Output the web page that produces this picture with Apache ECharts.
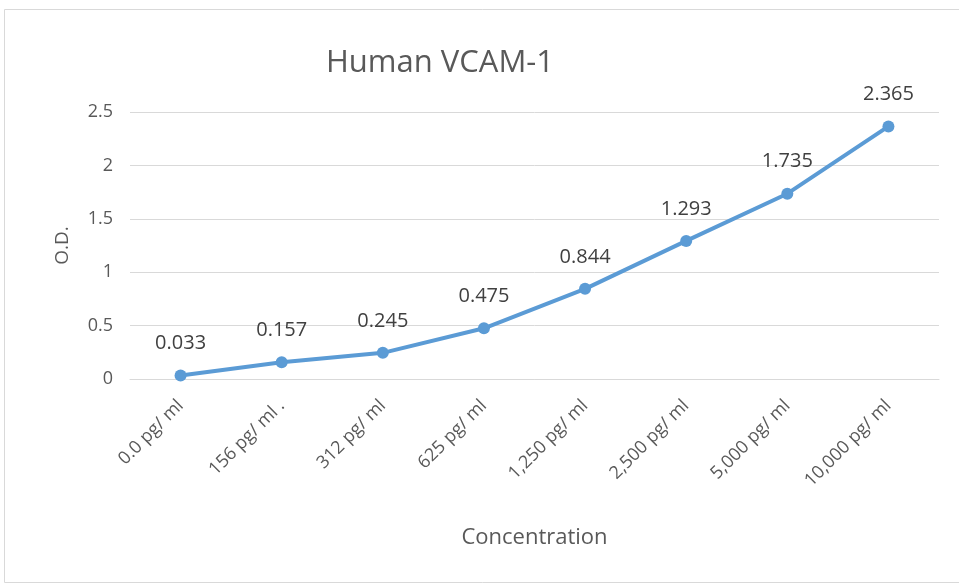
<!DOCTYPE html>
<html>
<head>
<meta charset="utf-8">
<script src="https://cdn.jsdelivr.net/npm/echarts@6/dist/echarts.min.js"></script>
<style>
  html, body { margin: 0; padding: 0; background: #fff; }
  #main { width: 959px; height: 585px; }
</style>
</head>
<body>
<div id="main"></div>
<script>
// 浓度分类和 O.D. 读数
let concentrations = ['0.0 pg/ ml', '156 pg/ ml .', '312 pg/ ml', '625 pg/ ml',
    '1,250 pg/ ml', '2,500 pg/ ml', '5,000 pg/ ml', '10,000 pg/ ml'];
let odValues = [0.033, 0.157, 0.245, 0.475, 0.844, 1.293, 1.735, 2.365];
let yTicks = [0, 0.5, 1, 1.5, 2, 2.5];

let myChart = echarts.init(document.getElementById('main'));
let font = '"Open Sans", "Noto Sans", sans-serif';

let option = {
    animation: false,
    textStyle: { fontFamily: font },
    graphic: [{
        type: 'rect',
        shape: { x: 4.5, y: 9.5, width: 970, height: 573 },
        style: { fill: 'none', stroke: '#d9d9d9', lineWidth: 1 }
    }],
    title: {
        text: 'Human VCAM-1',
        left: 435,
        top: 43,
        textAlign: 'center',
        textStyle: { fontSize: 31, fontWeight: 'normal', color: '#595959', fontFamily: font }
    },
    grid: { left: 130, right: 20, top: 112, bottom: 206 },
    xAxis: {
        type: 'category',
        data: concentrations,
        name: 'Concentration',
        nameLocation: 'middle',
        nameGap: 148,
        nameTextStyle: { fontSize: 22, color: '#595959' },
        axisLine: { lineStyle: { color: '#d9d9d9' } },
        axisTick: { show: false },
        axisLabel: { rotate: 45, fontSize: 18, color: '#595959', margin: 24 }
    },
    yAxis: {
        type: 'value',
        min: yTicks[0],
        max: yTicks[yTicks.length - 1],
        interval: 0.5,
        name: 'O.D.',
        nameLocation: 'middle',
        nameGap: 58,
        nameTextStyle: { fontSize: 19, color: '#595959' },
        axisLine: { show: false },
        axisTick: { show: false },
        axisLabel: { fontSize: 18, color: '#595959', margin: 17 },
        splitLine: { lineStyle: { color: '#d9d9d9' } }
    },
    series: [{
        type: 'line',
        data: odValues,
        symbol: 'circle',
        symbolSize: 12,
        color: '#5b9bd5',
        lineStyle: { width: 4, color: '#5b9bd5' },
        label: {
            show: true,
            position: 'top',
            distance: 16,
            fontSize: 20,
            color: '#404040',
            formatter: function (p) { return p.value.toFixed(3); }
        }
    }]
};

myChart.setOption(option);
window.addEventListener('resize', () => {
    myChart.resize();
});
</script>
</body>
</html>
